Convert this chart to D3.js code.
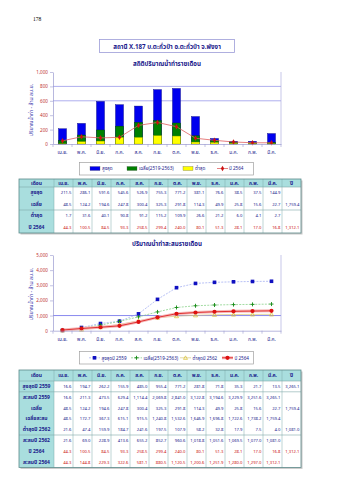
<!DOCTYPE html>
<html><head><meta charset="utf-8">
<script src="https://cdn.jsdelivr.net/npm/d3@7"></script>
<style>
body{margin:0;background:#fff}
svg{display:block}
text{font-family:"Noto Sans Thai","Noto Sans Thai UI","Noto Sans","DejaVu Sans",sans-serif}
</style>
</head><body><svg id="c" width="339" height="480"></svg>
<script>
// ---------- data ----------
const months = ["เม.ย.","พ.ค.","มิ.ย.","ก.ค.","ส.ค.","ก.ย.","ต.ค.","พ.ย.","ธ.ค.","ม.ค.","ก.พ.","มี.ค."];
const maxMonthly = [211.5,286.1,591.6,545.6,526.9,755.3,771.2,381.1,76.6,38.5,37.5,144.9];
const avgMonthly = [48.5,124.2,194.6,247.8,300.4,325.3,291.8,114.3,49.9,25.8,15.6,22.7];
const minMonthly = [1.7,31.6,40.1,90.8,91.2,115.2,109.9,26.6,21.2,6.0,4.1,2.7];
const y2564 = [44.3,100.5,84.5,93.3,258.5,299.4,240.0,80.1,51.3,28.1,17.0,16.8];
const max2559 = [16.6,194.7,262.2,155.9,485.0,955.4,771.2,281.8,71.8,35.3,21.7,13.5];
const cum2559 = [16.6,211.3,473.5,629.4,1114.4,2069.8,2841.0,3122.8,3194.6,3229.9,3251.6,3265.1];
const avgCum = [48.5,172.7,367.3,615.1,915.5,1240.8,1532.6,1646.9,1696.8,1722.6,1738.2,1759.4];
const min2562 = [21.6,47.4,159.9,184.7,241.6,197.5,107.9,58.2,32.8,17.9,7.5,4.0];
const cum2562 = [21.6,69.0,228.9,413.6,655.2,852.7,960.6,1018.8,1051.6,1069.5,1077.0,1081.0];
const cum2564 = [44.3,144.8,229.3,322.6,581.1,880.5,1120.5,1200.6,1251.9,1280.0,1297.0,1312.1];
const yearAvg = 1759.4, year2564 = 1312.1, year2559 = 3265.1, year2562 = 1081.0;
const barTicks = [0,200,400,600,800,1000];
const barGrid = [600,800];
const lineTicks = [0,1000,2000,3000,4000,5000];
const lineGrid = [1000];

// ---------- setup ----------
const svg = d3.select("#c");
svg.append("rect").attr("width",339).attr("height",480).attr("fill","#fff");
const NAVY = "#1a1a8c", RED = "#cc1111";
const fmt = d3.format(",.1f");
const tfmt = d3.format(",");

svg.append("text").attr("x",33).attr("y",21).attr("font-size",5.5)
  .style("font-family","Liberation Serif").text("178");

// title box
svg.append("rect").attr("x",99.5).attr("y",39.5).attr("width",135).attr("height",13)
  .attr("fill","#fff").attr("stroke","#9c9cd8").attr("stroke-width",0.8);
svg.append("text").attr("x",167).attr("y",48.6).attr("text-anchor","middle")
  .attr("font-size",6.2).attr("font-weight","bold").attr("fill",NAVY)
  .text("สถานี X.187 บ.ตะกั่วป่า อ.ตะกั่วป่า จ.พังงา");

// ---------- bar chart ----------
const x = d3.scaleBand().domain(months).range([53,281]);
const yb = d3.scaleLinear().domain([0,1000]).range([144,72]);

svg.append("text").attr("x",167).attr("y",66).attr("text-anchor","middle")
  .attr("font-size",6.2).attr("font-weight","bold").attr("fill",NAVY).text("สถิติปริมาณน้ำท่ารายเดือน");

function yTitle(cy){
  svg.append("text").attr("transform",`translate(33,${cy}) rotate(-90)`).attr("text-anchor","middle")
    .attr("font-size",5.2).attr("fill","#3333aa").text("ปริมาณน้ำท่า - ล้าน ลบ.ม.");
}
yTitle(110);

const gb = svg.append("g");
gb.selectAll(".grid").data(barGrid).join("line")
  .attr("x1",53).attr("x2",281).attr("y1",d=>yb(d)).attr("y2",d=>yb(d))
  .attr("stroke","#8c8ce6").attr("stroke-width",0.7);
gb.append("line").attr("x1",281).attr("x2",281).attr("y1",yb(1000)).attr("y2",yb(0))
  .attr("stroke","#b0b0e0").attr("stroke-width",0.7);

function styleAxis(g){
  g.select(".domain").attr("stroke","#9a9ad0").attr("stroke-width",0.7);
  g.selectAll(".tick line").attr("stroke","#9a9ad0").attr("stroke-width",0.6);
}
const yAxisB = gb.append("g").attr("transform","translate(53,0)")
  .call(d3.axisLeft(yb).tickValues(barTicks).tickFormat(tfmt).tickSize(3).tickSizeOuter(0));
styleAxis(yAxisB);
yAxisB.selectAll("text").attr("font-size",4.6).attr("fill","#c03030").attr("x",-5);

function xAxisAt(yPos){
  const g = svg.append("g").attr("transform",`translate(0,${yPos})`)
    .call(d3.axisBottom(x).tickSize(0).tickSizeOuter(0));
  styleAxis(g);
  g.selectAll("text").attr("font-size",4.8).attr("fill",NAVY).attr("dy","0").attr("y",10);
  g.selectAll(".sep").data(d3.range(13)).join("line")
    .attr("x1",i=>53+i*x.step()).attr("x2",i=>53+i*x.step()).attr("y1",0).attr("y2",3)
    .attr("stroke","#9a9ad0").attr("stroke-width",0.6);
}
xAxisAt(144);

const bw = 8;
const barSeries = [[maxMonthly,"#0000ee","#00007a"],[avgMonthly,"#008000","#004400"],[minMonthly,"#ffff00","#aaaa00"]];
barSeries.forEach(([vals,fill,stroke])=>{
  gb.selectAll(null).data(vals).join("rect")
    .attr("x",(d,i)=>x(months[i])+x.bandwidth()/2-bw/2).attr("width",bw)
    .attr("y",d=>yb(d)).attr("height",d=>yb(0)-yb(d))
    .attr("fill",fill).attr("stroke",stroke).attr("stroke-width",0.4);
});
const lineB = d3.line().x((d,i)=>x(months[i])+x.bandwidth()/2).y(d=>yb(d));
gb.append("path").datum(y2564).attr("d",lineB).attr("fill","none").attr("stroke","#e06060").attr("stroke-width",0.8);
gb.selectAll(null).data(y2564).join("path")
  .attr("transform",(d,i)=>`translate(${x(months[i])+x.bandwidth()/2},${yb(d)})`)
  .attr("d",d3.symbol(d3.symbolDiamond,9)).attr("fill",RED);

// bar legend
const lg1 = svg.append("g");
lg1.append("rect").attr("x",79.5).attr("y",162.5).attr("width",174).attr("height",12.5)
  .attr("fill","#fff").attr("stroke","#a0a0a0").attr("stroke-width",0.7);
const leg1 = [
  {t:"สูงสุด",k:"rect",c:"#0000ee",x:90},
  {t:"เฉลี่ย(2519-2563)",k:"rect",c:"#008000",x:127},
  {t:"ต่ำสุด",k:"rect",c:"#ffff00",x:183},
  {t:"ปี 2564",k:"line",c:RED,x:217}
];
leg1.forEach(d=>{
  if(d.k==="rect"){
    lg1.append("rect").attr("x",d.x).attr("y",166.5).attr("width",10).attr("height",4).attr("fill",d.c)
      .attr("stroke","#555").attr("stroke-width",0.3);
  } else {
    lg1.append("line").attr("x1",d.x).attr("x2",d.x+11).attr("y1",168.5).attr("y2",168.5).attr("stroke","#e06060").attr("stroke-width",0.8);
    lg1.append("path").attr("transform",`translate(${d.x+5.5},168.5)`).attr("d",d3.symbol(d3.symbolDiamond,9)).attr("fill",RED);
  }
  lg1.append("text").attr("x",d.x+12).attr("y",170.3).attr("font-size",4.6).attr("fill",NAVY).text(d.t);
});

// ---------- tables ----------
const tx = d3.scaleBand().domain(months).range([54,282]);
function drawTable(top, headH, rowH, rows, groupBreaks){
  const g = svg.append("g");
  const L = 19, R = 301, bottom = top+headH+rowH*rows.length;
  g.append("rect").attr("x",L+1.5).attr("y",top+1.5).attr("width",R-L).attr("height",bottom-top).attr("fill","#c8c8c8");
  g.append("rect").attr("x",L).attr("y",top).attr("width",R-L).attr("height",bottom-top).attr("fill","#fff");
  g.append("rect").attr("x",L).attr("y",top).attr("width",R-L).attr("height",headH).attr("fill","#a9dede");
  g.append("rect").attr("x",L).attr("y",top).attr("width",54-L).attr("height",bottom-top).attr("fill","#a9dede");
  const vx = [54,...months.map(m=>tx(m)+tx.bandwidth())];
  g.selectAll(".v").data(vx).join("line").attr("x1",d=>d).attr("x2",d=>d).attr("y1",top).attr("y2",bottom)
    .attr("stroke","#7fa8a8").attr("stroke-width",0.5);
  const hy = [top+headH, ...groupBreaks.map(b=>top+headH+rowH*b)];
  g.selectAll(".h").data(hy).join("line").attr("x1",L).attr("x2",R).attr("y1",d=>d).attr("y2",d=>d)
    .attr("stroke","#7fa8a8").attr("stroke-width",0.6);
  g.append("rect").attr("x",L).attr("y",top).attr("width",R-L).attr("height",bottom-top)
    .attr("fill","none").attr("stroke","#5c8a8a").attr("stroke-width",0.8);
  g.append("text").attr("x",(L+54)/2).attr("y",top+headH/2+1.8).attr("text-anchor","middle")
    .attr("font-size",5).attr("font-weight","bold").attr("fill",NAVY).text("เดือน");
  g.selectAll(".mh").data(months).join("text").attr("x",d=>tx(d)+tx.bandwidth()/2).attr("y",top+headH/2+1.8)
    .attr("text-anchor","middle").attr("font-size",4.8).attr("font-weight","bold").attr("fill",NAVY).text(d=>d);
  g.append("text").attr("x",(282+R)/2).attr("y",top+headH/2+1.8).attr("text-anchor","middle")
    .attr("font-size",5).attr("font-weight","bold").attr("fill",NAVY).text("ปี");
  rows.forEach((r,ri)=>{
    const cy = top+headH+rowH*ri+rowH/2+1.6;
    g.append("text").attr("x",(L+54)/2).attr("y",cy).attr("text-anchor","middle")
      .attr("font-size",5).attr("font-weight","bold").attr("fill",NAVY).text(r.label);
    g.selectAll(null).data(r.vals).join("text").attr("x",(d,i)=>tx(months[i])+tx.bandwidth()-1.5).attr("y",cy)
      .attr("text-anchor","end").attr("font-size",4.2).attr("fill",r.color).text(d=>fmt(d));
    if(r.year!=null) g.append("text").attr("x",R-1.5).attr("y",cy).attr("text-anchor","end")
      .attr("font-size",4.2).attr("fill",r.color).text(fmt(r.year));
  });
}
drawTable(179, 8, 11.5, [
  {label:"สูงสุด", vals:maxMonthly, color:NAVY},
  {label:"เฉลี่ย", vals:avgMonthly, color:NAVY, year:yearAvg},
  {label:"ต่ำสุด", vals:minMonthly, color:NAVY},
  {label:"ปี 2564", vals:y2564, color:RED, year:year2564}
], [2]);

// ---------- line chart ----------
const yl = d3.scaleLinear().domain([0,5000]).range([330.7,255]);
svg.append("text").attr("x",167).attr("y",245.5).attr("text-anchor","middle")
  .attr("font-size",6.2).attr("font-weight","bold").attr("fill",NAVY).text("ปริมาณน้ำท่าสะสมรายเดือน");
yTitle(294);
const gl = svg.append("g");
gl.selectAll(".grid").data(lineGrid).join("line")
  .attr("x1",53).attr("x2",281).attr("y1",d=>yl(d)).attr("y2",d=>yl(d))
  .attr("stroke","#6b6bea").attr("stroke-width",0.8);
gl.append("line").attr("x1",281).attr("x2",281).attr("y1",yl(5000)).attr("y2",yl(0))
  .attr("stroke","#b0b0e0").attr("stroke-width",0.7);
const yAxisL = gl.append("g").attr("transform","translate(53,0)")
  .call(d3.axisLeft(yl).tickValues(lineTicks).tickFormat(tfmt).tickSize(3).tickSizeOuter(0));
styleAxis(yAxisL);
yAxisL.selectAll("text").attr("font-size",4.6).attr("fill","#c03030").attr("x",-5);
xAxisAt(330.7);

const cx = (d,i)=>x(months[i])+x.bandwidth()/2;
const lineL = d3.line().x(cx).y(d=>yl(d));
const plus = "M-2,0H2M0,-2V2";
const lineSeries = [
  {vals:cum2559, stroke:"#9aa6f0", w:0.7, dash:"2,1.2", mk:"square", mc:"#1010c0"},
  {vals:avgCum, stroke:"#7acb7a", w:0.7, dash:"2,1.2", mk:"plus", mc:"#118811"},
  {vals:cum2562, stroke:"#d8c878", w:0.7, dash:null, mk:"tri", mc:"#d8c030"},
  {vals:cum2564, stroke:"#dd2222", w:0.9, dash:null, mk:"circle", mc:"#dd1111", halo:true}
];
function marker(g, kind, color, tx_, ty_){
  if(kind==="square") g.append("rect").attr("x",tx_-1.8).attr("y",ty_-1.8).attr("width",3.6).attr("height",3.6).attr("fill",color);
  else if(kind==="plus") g.append("path").attr("transform",`translate(${tx_},${ty_})`).attr("d",plus).attr("stroke",color).attr("stroke-width",0.9);
  else if(kind==="tri") g.append("path").attr("transform",`translate(${tx_},${ty_+0.4})`).attr("d",d3.symbol(d3.symbolTriangle,7)).attr("fill","none").attr("stroke",color).attr("stroke-width",0.7);
  else g.append("circle").attr("cx",tx_).attr("cy",ty_).attr("r",2.1).attr("fill",color);
}
lineSeries.forEach(s=>{
  if(s.halo) gl.append("path").datum(s.vals).attr("d",lineL).attr("fill","none").attr("stroke","#f6b8b8").attr("stroke-width",3);
  const p = gl.append("path").datum(s.vals).attr("d",lineL).attr("fill","none").attr("stroke",s.stroke).attr("stroke-width",s.w);
  if(s.dash) p.attr("stroke-dasharray",s.dash);
  s.vals.forEach((d,i)=>marker(gl,s.mk,s.mc,cx(d,i),yl(d)));
});

// line legend
const lg2 = svg.append("g");
lg2.append("rect").attr("x",79.5).attr("y",351.5).attr("width",174).attr("height",12.5)
  .attr("fill","#fff").attr("stroke","#a0a0a0").attr("stroke-width",0.7);
const leg2 = [
  {t:"สูงสุดปี 2559",s:lineSeries[0],x:89},
  {t:"เฉลี่ย(2519-2563)",s:lineSeries[1],x:131},
  {t:"ต่ำสุดปี 2562",s:lineSeries[2],x:180},
  {t:"ปี 2564",s:lineSeries[3],x:222}
];
leg2.forEach(d=>{
  if(d.s.halo) lg2.append("line").attr("x1",d.x).attr("x2",d.x+11).attr("y1",357.8).attr("y2",357.8).attr("stroke","#f6b8b8").attr("stroke-width",3);
  const l = lg2.append("line").attr("x1",d.x).attr("x2",d.x+11).attr("y1",357.8).attr("y2",357.8).attr("stroke",d.s.stroke).attr("stroke-width",d.s.w);
  if(d.s.dash) l.attr("stroke-dasharray",d.s.dash);
  marker(lg2,d.s.mk,d.s.mc,d.x+5.5,357.8);
  lg2.append("text").attr("x",d.x+12.5).attr("y",359.5).attr("font-size",4.6).attr("fill",NAVY).text(d.t);
});

drawTable(370, 11, 10.8, [
  {label:"สูงสุดปี 2559", vals:max2559, color:NAVY, year:year2559},
  {label:"สะสมปี 2559", vals:cum2559, color:NAVY},
  {label:"เฉลี่ย", vals:avgMonthly, color:NAVY, year:yearAvg},
  {label:"เฉลี่ยสะสม", vals:avgCum, color:NAVY},
  {label:"ต่ำสุดปี 2562", vals:min2562, color:NAVY, year:year2562},
  {label:"สะสมปี 2562", vals:cum2562, color:NAVY},
  {label:"ปี 2564", vals:y2564, color:RED, year:year2564},
  {label:"สะสมปี 2564", vals:cum2564, color:RED}
], [1,5]);
</script>
</body></html>
